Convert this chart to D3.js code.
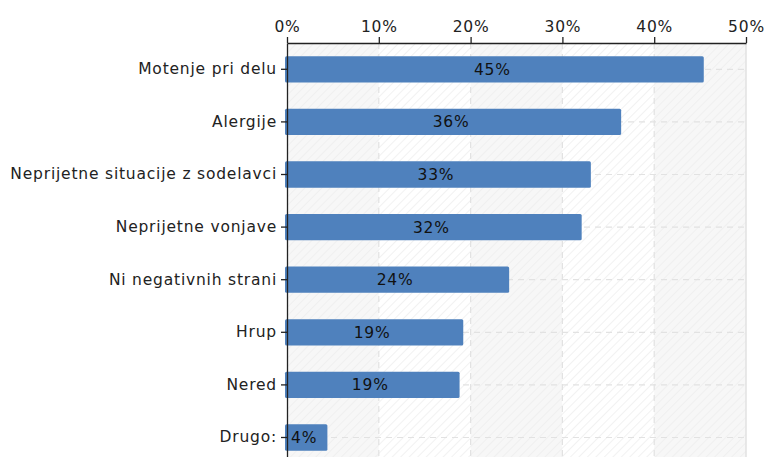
<!DOCTYPE html>
<html><head><meta charset="utf-8">
<script src="https://cdn.jsdelivr.net/npm/d3@7"></script>
<style>body{margin:0;background:#fff;} svg{display:block;font-family:"DejaVu Sans",sans-serif;}</style>
</head><body>
<svg id="c" width="766" height="457"></svg>
<script>
const categories = ["Motenje pri delu","Alergije","Neprijetne situacije z sodelavci","Neprijetne vonjave","Ni negativnih strani","Hrup","Nered","Drugo:"];
const values = [45.4, 36.4, 33.1, 32.1, 24.2, 19.2, 18.8, 4.4];
const labels = ["45%","36%","33%","32%","24%","19%","19%","4%"];
const xTicks = [0,10,20,30,40,50];

(function(){
const svg = d3.select("#c");
const pLeft = 287, pRight = 746, pTop = 43, bandH = 52.6;
const pBottom = pTop + bandH*categories.length;
const x = d3.scaleLinear().domain([0,50]).range([pLeft,pRight]);
const y = d3.scaleBand().domain(categories).range([pTop,pBottom]).paddingInner(0.5).paddingOuter(0.25);
const FS = 15.5, LS = 0.8;

const defs = svg.append("defs");
const pat = defs.append("pattern").attr("id","hatch").attr("patternUnits","userSpaceOnUse")
  .attr("width",6).attr("height",6).attr("patternTransform","rotate(45)");
pat.append("line").attr("x1",0).attr("y1",0).attr("x2",0).attr("y2",6).attr("stroke","#ededed").attr("stroke-width",2);

for (let i=0;i<xTicks.length-1;i++){
  svg.append("rect").attr("x",x(xTicks[i])).attr("y",pTop).attr("width",x(xTicks[i+1])-x(xTicks[i]))
    .attr("height",pBottom-pTop).attr("fill", i%2===0 ? "#f7f7f7" : "#ffffff");
}
svg.append("rect").attr("x",pLeft).attr("y",pTop).attr("width",pRight-pLeft).attr("height",pBottom-pTop).attr("fill","url(#hatch)").attr("opacity",0.75);
svg.append("line").attr("x1",pRight).attr("x2",pRight).attr("y1",pTop).attr("y2",pBottom).attr("stroke","#e2e2e2").attr("stroke-width",1.5);

svg.append("g").selectAll("line").data(xTicks.slice(1,-1)).join("line")
  .attr("x1",d=>x(d)).attr("x2",d=>x(d)).attr("y1",pTop).attr("y2",pBottom)
  .attr("stroke","#e2e2e2").attr("stroke-width",1.2).attr("stroke-dasharray","6,5");
svg.append("g").selectAll("line").data(categories).join("line")
  .attr("x1",pLeft).attr("x2",pRight).attr("y1",d=>y(d)+y.bandwidth()/2).attr("y2",d=>y(d)+y.bandwidth()/2)
  .attr("stroke","#e2e2e2").attr("stroke-width",1.2).attr("stroke-dasharray","6,5");

svg.append("g").selectAll("rect").data(categories).join("rect")
  .attr("x",pLeft-2).attr("y",d=>y(d)).attr("height",y.bandwidth())
  .attr("width",(d,i)=>x(values[i])-pLeft+2).attr("rx",1.5)
  .attr("fill","#4f81bd");
svg.append("g").selectAll("text").data(categories).join("text")
  .attr("x",(d,i)=>(pLeft-2+x(values[i]))/2 - 2).attr("y",d=>y(d)+y.bandwidth()/2)
  .attr("dy","0.36em").attr("text-anchor","middle").attr("font-size",FS).attr("letter-spacing",LS).attr("fill","#111")
  .text((d,i)=>labels[i]);

const xa = svg.append("g").attr("transform",`translate(0,${pTop})`)
  .call(d3.axisTop(x).tickValues(xTicks).tickFormat(d=>d+"%").tickSize(6).tickSizeOuter(0));
xa.select(".domain").attr("stroke","#222").attr("stroke-width",1.3);
xa.selectAll(".tick line").attr("stroke","#222").attr("stroke-width",1.3);
xa.selectAll("text").attr("font-size",FS).attr("letter-spacing",LS).attr("fill","#222").attr("font-family","DejaVu Sans").attr("dy","-0.15em");

const ya = svg.append("g").attr("transform",`translate(${pLeft},0)`)
  .call(d3.axisLeft(y).tickSize(6).tickSizeOuter(0).tickPadding(4));
ya.select(".domain").attr("stroke","#222").attr("stroke-width",1.3);
ya.selectAll(".tick line").attr("stroke","#222").attr("stroke-width",1.3);
ya.selectAll("text").attr("font-size",FS).attr("letter-spacing",LS).attr("fill","#222").attr("font-family","DejaVu Sans");
})();
</script>
</body></html>
